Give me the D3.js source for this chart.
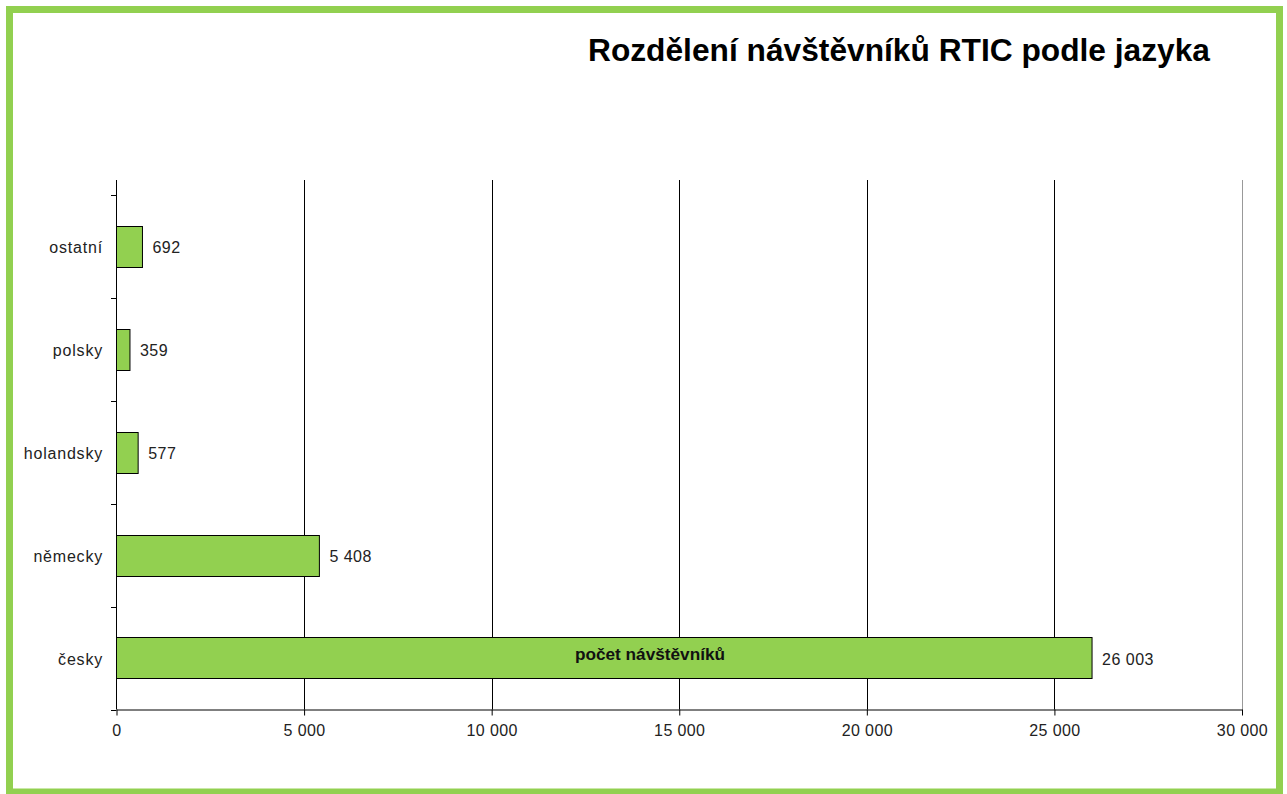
<!DOCTYPE html>
<html><head><meta charset="utf-8">
<script src="https://cdn.jsdelivr.net/npm/d3@7"></script>
<style>body{margin:0;background:#fff;}svg{display:block;font-family:"Liberation Sans",Arial,sans-serif;}</style>
</head><body>
<svg id="c" width="1287" height="794"></svg>
<script>
const categories = ["ostatní", "polsky", "holandsky", "německy", "česky"];
const values = [692, 359, 577, 5408, 26003];
const xTicks = [0, 5000, 10000, 15000, 20000, 25000, 30000];
const seriesName = "počet návštěvníků";
const title = "Rozdělení návštěvníků RTIC podle jazyka";

const svg = d3.select("#c");
const green = "#92d050";
const txt = "#222";
// frame
svg.append("rect").attr("x", 9.5).attr("y", 9.5).attr("width", 1270).attr("height", 782.5)
  .attr("fill", "#fff").attr("stroke", green).attr("stroke-width", 7);

const x = d3.scaleLinear().domain([0, 30000]).range([116.5, 1242]);
const y = d3.scaleBand().domain(categories).range([195, 709.5]).paddingInner(0.6).paddingOuter(0.3);
const fmt = v => d3.format(",")(v).replace(/,/g, " ");

// gridlines
svg.append("g").selectAll("line").data(xTicks.slice(1)).join("line")
  .attr("x1", d => Math.round(x(d)) + 0.5).attr("x2", d => Math.round(x(d)) + 0.5)
  .attr("y1", 180).attr("y2", 709.5)
  .attr("stroke", (d, i, a) => i === a.length - 1 ? "#999" : "#000").attr("stroke-width", 1);

// x axis
const xAxis = d3.axisBottom(x).tickValues(xTicks).tickFormat(fmt).tickSize(6).tickSizeOuter(0);
const gx = svg.append("g").attr("transform", "translate(0,709.5)").call(xAxis);
gx.select(".domain").attr("stroke", "#000");
gx.selectAll(".tick line").attr("stroke", "#000");
gx.selectAll("text").attr("font-size", 16).attr("fill", txt).attr("y", 15).attr("dy", "0.71em")
  .attr("letter-spacing", "0.4px")
  .attr("font-family", "'Liberation Sans',Arial,sans-serif");

// y axis line
svg.append("line").attr("x1", 116.5).attr("x2", 116.5).attr("y1", 180).attr("y2", 709.5).attr("stroke", "#000");
// y ticks at band boundaries
const bounds = d3.range(categories.length + 1).map(i => 195 + i * (514.5 / categories.length));
svg.append("g").selectAll("line").data(bounds).join("line")
  .attr("x1", 111).attr("x2", 116.5)
  .attr("y1", d => Math.round(d) + 0.5).attr("y2", d => Math.round(d) + 0.5).attr("stroke", "#000");

// category labels
svg.append("g").selectAll("text").data(categories).join("text")
  .attr("x", 103).attr("y", d => y(d) + y.bandwidth() / 2 + 1).attr("dy", "0.35em")
  .attr("text-anchor", "end").attr("font-size", 16).attr("letter-spacing", "0.8px")
  .attr("fill", txt).text(d => d);

// bars
svg.append("g").selectAll("rect").data(categories).join("rect")
  .attr("x", x(0)).attr("y", d => Math.round(y(d)) + 0.5)
  .attr("width", (d, i) => x(values[i]) - x(0)).attr("height", Math.round(y.bandwidth()))
  .attr("fill", green).attr("stroke", "#000").attr("stroke-width", 1);

// value labels
svg.append("g").selectAll("text").data(categories).join("text")
  .attr("x", (d, i) => x(values[i]) + 10).attr("y", d => y(d) + y.bandwidth() / 2 + 1).attr("dy", "0.35em")
  .attr("font-size", 16).attr("letter-spacing", "0.5px").attr("fill", txt).text((d, i) => fmt(values[i]));

// series label inside česky bar
svg.append("text").attr("x", 575).attr("y", y("česky") + 23)
  .attr("textLength", 150).attr("lengthAdjust", "spacingAndGlyphs")
  .attr("font-size", 16).attr("font-weight", "bold").attr("fill", "#111")
  .text(seriesName);

// title
svg.append("text").attr("x", 588).attr("y", 61)
  .attr("textLength", 622).attr("lengthAdjust", "spacingAndGlyphs")
  .attr("font-size", 31).attr("font-weight", "bold").attr("fill", "#000").text(title);
</script>
</body></html>
